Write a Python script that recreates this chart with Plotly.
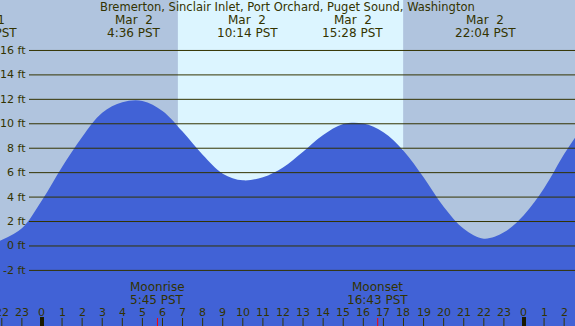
import plotly.graph_objects as go

station = "Bremerton, Sinclair Inlet, Port Orchard, Puget Sound, Washington"

# Tide curve: hours since Mar 2 00:00 PST, height in ft
tide_hours = [-2.09, -1, 0, 1, 2, 3, 4, 5, 6, 7, 8, 9, 10, 11, 12, 13, 14,
              15, 16, 17, 18, 19, 20, 21, 22, 23, 24, 25, 26, 26.54]
tide_ft = [0.43, 1.45, 3.74, 6.46, 8.92, 10.9, 11.76, 11.87, 11.05, 9.36, 7.46,
           5.92, 5.37, 5.63, 6.43, 7.72, 9.08, 9.98, 10.02, 9.3, 7.8, 5.62,
           3.2, 1.4, 0.6, 1.12, 2.54, 4.72, 7.52, 8.86]

# High / low tide labels
extreme_dates = ["Mar\u00a0 1", "Mar\u00a0 2", "Mar\u00a0 2", "Mar\u00a0 2", "Mar\u00a0 2"]
extreme_times = ["21:13", "4:36", "10:14", "15:28", "22:04"]
extreme_day_offset = [-1, 0, 0, 0, 0]

# Sun and moon (hours of Mar 2)
sunrise = "6:46"
sunset = "17:59"
moon_events = ["Moonrise", "Moonset"]
moon_times = ["5:45", "16:43"]

# Axes
x_range = [-2.09, 26.54]
y_range = [-6.55, 20.13]
ft_ticks = [-2, 0, 2, 4, 6, 8, 10, 12, 14, 16]
hour_ticks = list(range(-2, 27))

NIGHT = "#B0C4DE"
DAY = "#DCF5FF"
WATER = "#4162D6"
INK = "#333300"
FONT = "DejaVu Sans"


def to_hours(s, day=0):
    h, m = s.split(":")
    return 24 * day + int(h) + int(m) / 60.0


def paper_x(h):
    return (h - x_range[0]) / (x_range[1] - x_range[0])


fig = go.Figure()

# baseline for the water fill
fig.add_trace(go.Scatter(x=[x_range[0], x_range[1]], y=[y_range[0], y_range[0]],
                         mode="lines", line=dict(width=0), hoverinfo="skip",
                         showlegend=False))
fig.add_trace(go.Scatter(x=tide_hours, y=tide_ft, mode="lines",
                         line=dict(width=0, shape="spline", color=WATER),
                         fill="tonexty", fillcolor=WATER, showlegend=False))

shapes = []
# daylight band
shapes.append(dict(type="rect", xref="x", yref="paper",
                   x0=to_hours(sunrise), x1=to_hours(sunset), y0=0, y1=1,
                   fillcolor=DAY, line=dict(width=0), layer="below"))
# horizontal grid lines
for v in ft_ticks:
    shapes.append(dict(type="line", xref="paper", yref="y", x0=29 / 575, x1=1,
                       y0=v, y1=v, line=dict(color=INK, width=1), layer="above"))
# hour ticks
for h in hour_ticks:
    midnight = (h % 24 == 0)
    shapes.append(dict(type="line", xref="x", yref="paper", x0=h, x1=h,
                       y0=0, y1=(9 if midnight else 8) / 326,
                       line=dict(color="#1a1a00" if midnight else INK,
                                 width=4 if midnight else 1), layer="above"))
# moon ticks
for t in moon_times:
    shapes.append(dict(type="line", xref="x", yref="paper", x0=to_hours(t),
                       x1=to_hours(t), y0=0, y1=8 / 326,
                       line=dict(color="red", width=1), layer="above"))

annotations = []
small = dict(family=FONT, size=11, color=INK)
big = dict(family=FONT, size=12, color=INK)
title_font = dict(family=FONT, size=11.5, color=INK)


def label(x, y, text, font, xref="paper", yref="paper", xanchor="center"):
    annotations.append(dict(xref=xref, yref=yref, x=x, y=y, text=text,
                            xanchor=xanchor, yanchor="middle", showarrow=False,
                            borderpad=0, font=font))


# y labels
for v in ft_ticks:
    label(27 / 575, v, f"{v} ft", small, yref="y", xanchor="right")
# x labels
for h in hour_ticks:
    label(h, (326 - 312) / 326, str(h % 24), small, xref="x")
# title
label(0.5, 1 - 6.7 / 326, station, title_font)
# extremes
for d, t, off in zip(extreme_dates, extreme_times, extreme_day_offset):
    px = paper_x(to_hours(t, off))
    label(px, 1 - 19.9 / 326, d, big)
    label(px, 1 - 32.9 / 326, f"{t} PST", big)
# moon labels
for ev, t in zip(moon_events, moon_times):
    px = paper_x(to_hours(t))
    label(px, (326 - 286.5) / 326, ev, big)
    label(px, (326 - 299.5) / 326, f"{t} PST", big)

fig.update_layout(
    width=575, height=326,
    margin=dict(l=0, r=0, t=0, b=0),
    paper_bgcolor=NIGHT, plot_bgcolor=NIGHT,
    xaxis=dict(range=x_range, visible=False, fixedrange=True),
    yaxis=dict(range=y_range, visible=False, fixedrange=True),
    shapes=shapes, annotations=annotations,
    showlegend=False,
)

fig.write_html("out.html", config={"displayModeBar": False},
               post_script="document.body.style.margin='0';document.body.style.overflow='hidden';")
